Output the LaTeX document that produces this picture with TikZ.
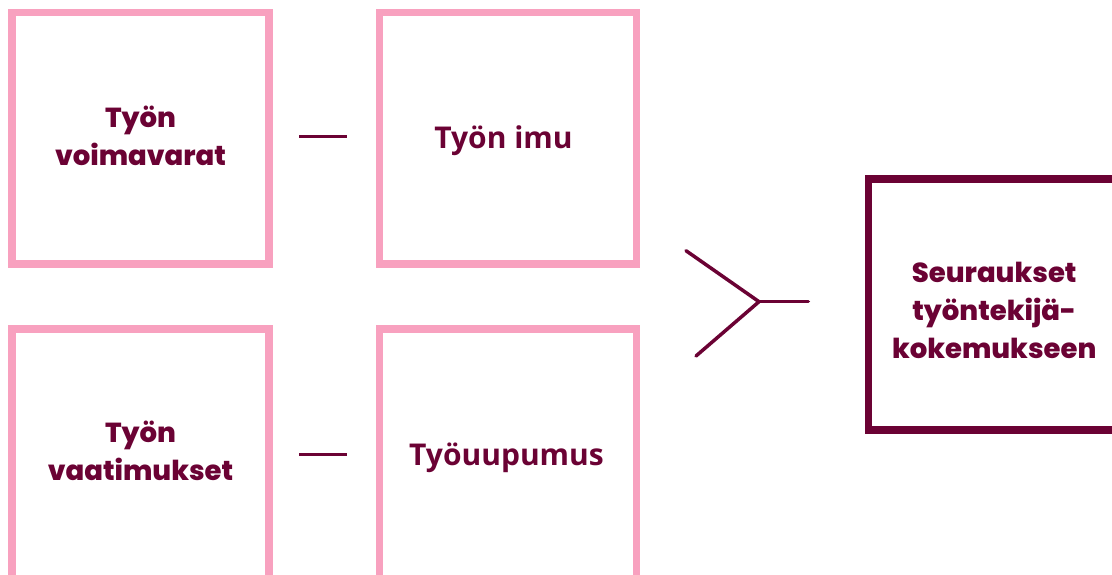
\documentclass[tikz,border=0pt]{standalone}
\usepackage{fontspec}
\setmainfont{Poppins}[BoldFont={Poppins ExtraBold}]
\newfontfamily\opensans{Open Sans}
\definecolor{rose}{HTML}{F8A1BF}
\definecolor{wine}{HTML}{6B0234}
\begin{document}
\begin{tikzpicture}[x=1pt,y=-1pt,
  card/.style={draw=rose,line width=7.5pt,minimum width=257pt,minimum height=251.3pt,
    inner sep=0pt},
  outcome/.style={draw=wine,line width=7.5pt,minimum width=251pt,minimum height=251pt,
    inner sep=0pt},
  label/.style={align=center,text=wine,inner sep=0pt,font=\fontsize{27.5}{38}\selectfont\bfseries},
  single/.style={text=wine,inner sep=0pt,font=\opensans\fontsize{30}{36}\selectfont\bfseries},
  tie/.style={draw=wine,line width=3pt,shorten <=26.5pt,shorten >=29pt},
  fork/.style={draw=wine,line width=3.5pt,line cap=round,line join=round}]
\useasboundingbox (0,0) rectangle (1112,575);
\clip (0,0) rectangle (1112,575);
% input cards
\node[card] (res) at (140.5,138.4) {};
\node[label] at ([yshift=2.5pt]res.center) {Työn\\voimavarat};
\node[card] (eng) at (508,138.4) {};
\node[single] at ([xshift=-4.5pt,yshift=-2pt]eng.center) {Työn imu};
\node[card] (dem) at (140.5,454.8) {};
\node[label] at ([yshift=3.5pt]dem.center) {Työn\\vaatimukset};
\node[card] (burn) at (508,454.8) {};
\node[single] at ([xshift=-1.5pt,yshift=-3pt]burn.center) {Työuupumus};
% outcome card
\node[outcome] (out) at (994.2,304.5) {};
\node[label] at ([yshift=-5.5pt]out.center) {Seuraukset\\työntekijä-\\kokemukseen};
% links between paired cards
\draw[tie] ([yshift=1.6pt]res.east) -- ([yshift=1.6pt]eng.west);
\draw[tie] ([yshift=0.5pt]dem.east) -- ([yshift=0.5pt]burn.west);
% fork joining both rows into the outcome
\coordinate (j) at (759,301.7);
\coordinate (up) at (686,250.7);
\coordinate (lo) at (696,356);
\coordinate (tip) at (808.3,301.7);
\draw[fork] (up) -- (j) -- (lo);
\draw[fork] (j) -- (tip);
\end{tikzpicture}
\end{document}
